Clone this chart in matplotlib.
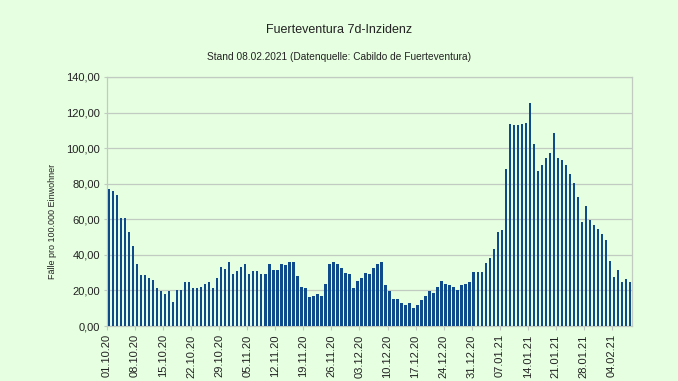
import numpy as np
import matplotlib
matplotlib.use("Agg")
import matplotlib.pyplot as plt
from matplotlib.ticker import FuncFormatter

# 7-day incidence per 100,000, one value per day from 01.10.20 to 08.02.21
incidence = [
    76.9, 76.0, 73.7, 60.6, 60.6, 52.9, 45.2, 34.9, 28.9, 28.9, 27.2, 25.7,
    21.4, 19.7, 17.8, 19.7, 13.5, 20.4, 20.4, 24.6, 24.6, 21.4,
    21.4, 22.1, 23.8, 24.8, 21.4, 27.2, 33.2, 32.3, 35.8, 29.1, 30.8, 33.2,
    34.9, 29.1, 30.8, 30.8, 29.1, 29.1, 34.9, 31.5, 31.5,
    34.9, 34.1, 35.8, 35.8, 28.1, 22.1, 21.4, 16.3, 17.1, 18.0, 17.1, 23.8,
    34.9, 35.8, 34.9, 32.5, 29.8, 29.1, 21.4, 25.5, 27.2, 29.8,
    29.1, 32.5, 34.9, 35.8, 23.1, 19.7, 15.4, 15.4, 12.8, 11.8, 12.8, 10.1,
    11.8, 14.4, 17.1, 19.7, 18.8, 22.1, 25.5, 23.8, 23.1, 22.1,
    20.4, 22.9, 23.6, 24.6, 30.6, 30.6, 30.6, 35.6, 38.3, 43.5, 52.9, 53.7,
    88.0, 113.5, 112.8, 112.8, 113.5, 114.4, 125.5, 102.4, 87.1,
    90.6, 94.7, 97.4, 108.4, 94.7, 93.1, 90.6, 85.4, 80.3, 72.4, 58.2, 67.4,
    59.7, 57.0, 54.4, 52.0, 48.6, 36.6, 27.4, 31.5, 24.8, 26.5, 24.8,
]

# weekly date labels
week_labels = [
    "01.10.20", "08.10.20", "15.10.20", "22.10.20", "29.10.20", "05.11.20",
    "12.11.20", "19.11.20", "26.11.20", "03.12.20", "10.12.20", "17.12.20",
    "24.12.20", "31.12.20", "07.01.21", "14.01.21", "21.01.21", "28.01.21",
    "04.02.21",
]

bg = "#e6ffe0"
bar_color = "#0f4a8a"
grid_color = "#c2cbc2"
text_color = "#222222"

plt.rcParams['font.family'] = ['Liberation Sans', 'DejaVu Sans']

fig = plt.figure(figsize=(6.78, 3.81), dpi=100, facecolor=bg)
ax = fig.add_axes([107 / 678, 1 - 326 / 381, 525 / 678, 249 / 381])
ax.set_facecolor(bg)

x = np.arange(len(incidence))
ax.bar(x, incidence, width=0.6, color=bar_color, zorder=3)

ax.set_xlim(-0.5, len(incidence) - 0.5)
ax.set_ylim(0, 140)
ax.set_yticks(np.arange(0, 141, 20))
ax.yaxis.set_major_formatter(FuncFormatter(lambda v, p: f"{v:.2f}".replace(".", ",")))
ax.grid(axis="y", color=grid_color, linewidth=0.9, zorder=0)

ax.set_xticks(np.arange(0, len(incidence), 7) - 0.5)
ax.set_xticklabels(week_labels, rotation=90, fontsize=8, color=text_color)
ax.tick_params(axis="y", labelsize=8, labelcolor=text_color, length=2,
               color=grid_color, pad=3)
ax.tick_params(axis="x", length=3, color=grid_color, pad=3)

for side in ["left", "right", "bottom", "top"]:
    ax.spines[side].set_color(grid_color)
    ax.spines[side].set_linewidth(0.9)

ax.set_ylabel("Fälle pro 100.000 Einwohner", fontsize=6.5, color=text_color)
ax.yaxis.set_label_coords((57 - 107) / 525, (326 - 221) / 249)

fig.text(0.5, 1 - 30 / 381, "Fuerteventura 7d-Inzidenz", ha="center",
         va="center", fontsize=9, color=text_color)
fig.text(0.5, 1 - 57 / 381, "Stand 08.02.2021 (Datenquelle: Cabildo de Fuerteventura)",
         ha="center", va="center", fontsize=7.3, color=text_color)

fig.savefig("out.png", dpi=100, facecolor=bg)
